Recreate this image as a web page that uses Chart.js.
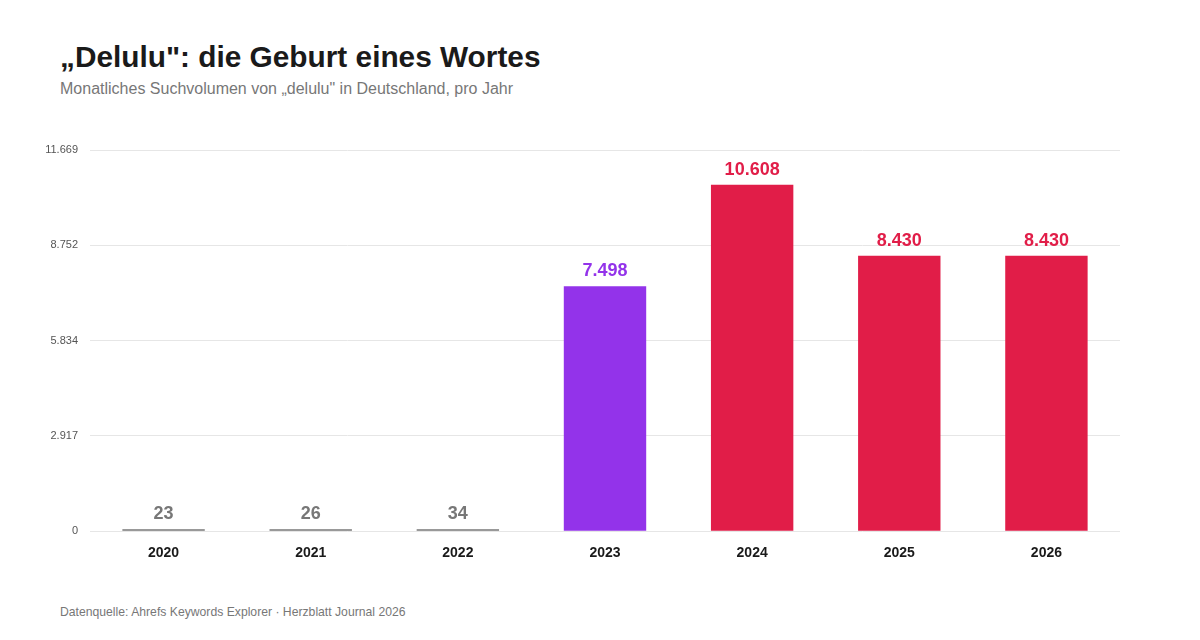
<!DOCTYPE html>
<html>
<head>
<meta charset="utf-8">
<script src="https://cdn.jsdelivr.net/npm/chart.js@4"></script>
<style>
  body { margin: 0; background: #fff; font-family: Arial, "Liberation Sans", sans-serif; }
  #wrap { position: relative; width: 1200px; height: 640px; }
  h1 { position: absolute; left: 60px; top: 40px; margin: 0; font-size: 29.8px; font-weight: bold; color: #1a1a1a; }
  .sub { position: absolute; left: 60px; top: 80px; font-size: 16px; color: #777; }
  .src { position: absolute; left: 60px; top: 605px; font-size: 12.2px; color: #777; }
  #box { position: absolute; left: 0; top: 120px; width: 1200px; height: 458px; }
</style>
</head>
<body>
<div id="wrap">
  <h1>„Delulu": die Geburt eines Wortes</h1>
  <div class="sub">Monatliches Suchvolumen von „delulu" in Deutschland, pro Jahr</div>
  <div id="box"><canvas id="c"></canvas></div>
  <div class="src">Datenquelle: Ahrefs Keywords Explorer · Herzblatt Journal 2026</div>
</div>
<script>
const years = ['2020', '2021', '2022', '2023', '2024', '2025', '2026'];
const volume = [23, 26, 34, 7498, 10608, 8430, 8430];
const barColors = ['#777777', '#777777', '#777777', '#9333ea', '#e11d48', '#e11d48', '#e11d48'];
const yTicks = [0, 2917, 5834, 8752, 11669];

const fmt = v => v.toLocaleString('de-DE');

const valueLabels = {
  id: 'valueLabels',
  afterDatasetsDraw(chart) {
    const ctx = chart.ctx;
    const meta = chart.getDatasetMeta(0);
    ctx.save();
    ctx.font = 'bold 18px Arial, "Liberation Sans", sans-serif';
    ctx.textAlign = 'center';
    ctx.textBaseline = 'bottom';
    meta.data.forEach((bar, i) => {
      ctx.fillStyle = barColors[i];
      ctx.fillText(fmt(volume[i]), bar.x, bar.y - 6);
    });
    ctx.restore();
  }
};

new Chart(document.getElementById('c'), {
  type: 'bar',
  data: {
    labels: years,
    datasets: [{
      data: volume,
      backgroundColor: barColors,
      barPercentage: 0.56,
      categoryPercentage: 1,
      minBarLength: 2
    }]
  },
  options: {
    responsive: true,
    maintainAspectRatio: false,
    animation: false,
    layout: { padding: { top: 30, right: 80, bottom: 10, left: 0 } },
    plugins: { legend: { display: false }, tooltip: { enabled: false } },
    scales: {
      x: {
        grid: { display: false },
        border: { display: false },
        ticks: { color: '#1a1a1a', font: { size: 14, weight: 'bold', family: 'Arial, "Liberation Sans", sans-serif' }, padding: 6 }
      },
      y: {
        min: 0,
        max: 11669,
        afterBuildTicks: s => { s.ticks = yTicks.map(v => ({ value: v })); },
        afterFit: s => { s.width = 90; },
        grid: { color: '#e6e6e6', drawTicks: false },
        border: { display: false },
        ticks: { color: '#555', font: { size: 11, family: 'Arial, "Liberation Sans", sans-serif' }, padding: 12, callback: v => fmt(v) }
      }
    }
  },
  plugins: [valueLabels]
});
</script>
</body>
</html>
